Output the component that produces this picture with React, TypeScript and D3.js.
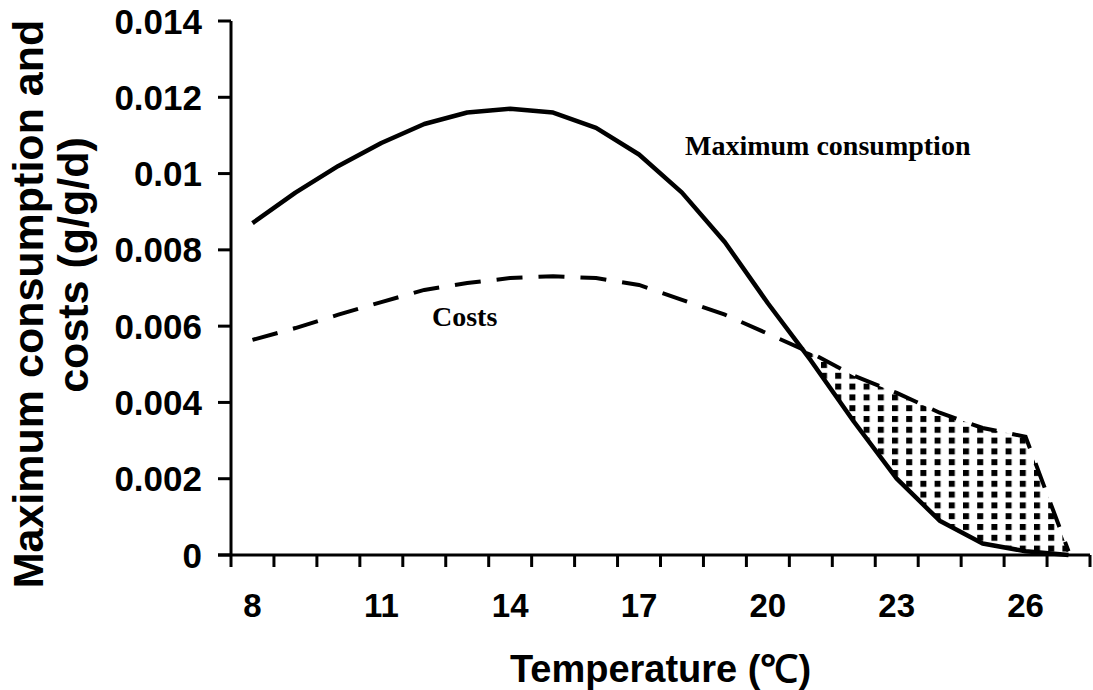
import React from "react";
import * as d3 from "d3";

// Temperature categories (°C)
const temperatures = [8, 9, 10, 11, 12, 13, 14, 15, 16, 17, 18, 19, 20, 21, 22, 23, 24, 25, 26, 27];
// Maximum consumption (g/g/d)
const maxConsumption = [
  0.0087, 0.0095, 0.0102, 0.0108, 0.0113, 0.0116, 0.0117, 0.0116, 0.0112, 0.0105,
  0.0095, 0.0082, 0.0066, 0.0051, 0.0035, 0.002, 0.0009, 0.0003, 0.0001, 0,
];
// Costs (g/g/d)
const costs = [
  0.00564, 0.00595, 0.0063, 0.00663, 0.00695, 0.00713, 0.00726, 0.00731, 0.00726, 0.00708,
  0.00669, 0.0063, 0.0058, 0.0053, 0.0047, 0.00425, 0.00373, 0.00333, 0.0031, 0.0001,
];
const yTicks = [0, 0.002, 0.004, 0.006, 0.008, 0.01, 0.012, 0.014];
const xTickLabels = [8, 11, 14, 17, 20, 23, 26];

const W = 1093;
const H = 690;
const left = 231;
const right = 1090;
const top = 21;
const bottom = 555;

export default function App() {
  const x = d3
    .scaleBand<number>()
    .domain(temperatures)
    .range([left, right])
    .padding(0);
  const bw = x.bandwidth();
  const cx = (t: number) => (x(t) as number) + bw / 2;
  const y = d3.scaleLinear().domain([0, 0.014]).range([bottom, top]);

  const maxPts = temperatures.map((t, i) => ({ t, v: maxConsumption[i] }));
  const costPts = temperatures.map((t, i) => ({ t, v: costs[i] }));

  const line = d3
    .line<{ t: number; v: number }>()
    .x((d) => cx(d.t))
    .y((d) => y(d.v));

  // Region where costs exceed maximum consumption, starting at the crossing point
  let startIdx = -1;
  for (let i = 0; i < temperatures.length - 1; i++) {
    const d0 = maxConsumption[i] - costs[i];
    const d1 = maxConsumption[i + 1] - costs[i + 1];
    if (d0 > 0 && d1 <= 0) {
      startIdx = i;
      break;
    }
  }
  type Band = { px: number; lo: number; hi: number };
  const deficit: Band[] = [];
  if (startIdx >= 0) {
    const i = startIdx;
    const d0 = maxConsumption[i] - costs[i];
    const d1 = maxConsumption[i + 1] - costs[i + 1];
    const f = d0 / (d0 - d1);
    const px = cx(temperatures[i]) + f * bw;
    const v = maxConsumption[i] + f * (maxConsumption[i + 1] - maxConsumption[i]);
    deficit.push({ px, lo: v, hi: v });
    for (let j = i + 1; j < temperatures.length; j++) {
      deficit.push({ px: cx(temperatures[j]), lo: maxConsumption[j], hi: costs[j] });
    }
  }
  const area = d3
    .area<Band>()
    .x((d) => d.px)
    .y0((d) => y(d.lo))
    .y1((d) => y(d.hi));

  const sans = "'Liberation Sans', Arial, sans-serif";
  const serif = "'Liberation Serif', 'Times New Roman', serif";

  return (
    <svg
      width={W}
      height={H}
      style={{ position: "absolute", left: 0, top: 0, background: "#fff" }}
    >
      <defs>
        <pattern
          id="dots"
          patternUnits="userSpaceOnUse"
          x={11.6}
          y={5.6}
          width={14.2}
          height={10.8}
        >
          <rect x={0} y={0} width={6} height={6} fill="#000" />
        </pattern>
      </defs>

      {/* shaded deficit area */}
      <path d={area(deficit) || ""} fill="url(#dots)" stroke="none" />

      {/* series */}
      <path
        d={line(costPts) || ""}
        fill="none"
        stroke="#000"
        strokeWidth={4}
        strokeDasharray="26 16"
      />
      <path d={line(maxPts) || ""} fill="none" stroke="#000" strokeWidth={4.5} strokeLinejoin="round" />

      {/* y axis */}
      <line x1={left} x2={left} y1={top} y2={bottom} stroke="#000" strokeWidth={3} />
      {yTicks.map((v) => (
        <g key={v}>
          <line x1={left - 13} x2={left} y1={y(v)} y2={y(v)} stroke="#000" strokeWidth={3} />
          <text
            x={202}
            y={y(v)}
            textAnchor="end"
            dominantBaseline="central"
            fontFamily={sans}
            fontWeight="bold"
            fontSize={35}
          >
            {String(v)}
          </text>
        </g>
      ))}

      {/* x axis */}
      <line x1={left - 13} x2={right} y1={bottom} y2={bottom} stroke="#000" strokeWidth={3} />
      {d3.range(temperatures.length + 1).map((i) => (
        <line
          key={i}
          x1={left + i * bw}
          x2={left + i * bw}
          y1={bottom}
          y2={bottom + 12}
          stroke="#000"
          strokeWidth={3}
        />
      ))}
      {xTickLabels.map((t) => (
        <text
          key={t}
          x={cx(t)}
          y={617}
          textAnchor="middle"
          fontFamily={sans}
          fontWeight="bold"
          fontSize={33}
        >
          {t}
        </text>
      ))}

      {/* axis titles */}
      <text
        x={(left + right) / 2}
        y={682}
        textAnchor="middle"
        fontFamily={sans}
        fontWeight="bold"
        fontSize={38}
      >
        Temperature (℃)
      </text>
      <text
        transform="translate(43,304) rotate(-90)"
        textAnchor="middle"
        fontFamily={sans}
        fontWeight="bold"
        fontSize={43}
      >
        Maximum consumption and
      </text>
      <text
        transform="translate(88,265) rotate(-90)"
        textAnchor="middle"
        fontFamily={sans}
        fontWeight="bold"
        fontSize={43}
      >
        costs (g/g/d)
      </text>

      {/* series labels */}
      <text x={685} y={155} fontFamily={serif} fontWeight="bold" fontSize={28}>
        Maximum consumption
      </text>
      <text x={432} y={326} fontFamily={serif} fontWeight="bold" fontSize={28}>
        Costs
      </text>
    </svg>
  );
}
